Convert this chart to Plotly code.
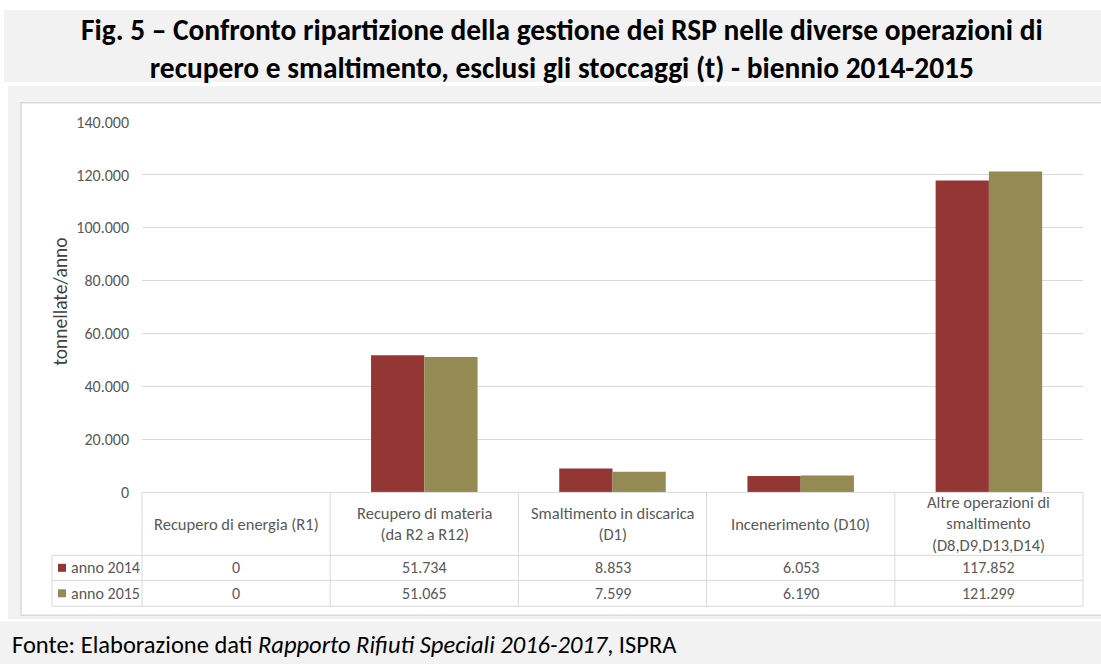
import plotly.graph_objects as go

# Data
categories = [
    "Recupero di energia (R1)",
    "Recupero di materia<br>(da R2 a R12)",
    "Smaltimento in discarica<br>(D1)",
    "Incenerimento (D10)",
    "Altre operazioni di<br>smaltimento<br>(D8,D9,D13,D14)",
]
series_names = ["anno 2014", "anno 2015"]
values_2014 = [0, 51734, 8853, 6053, 117852]
values_2015 = [0, 51065, 7599, 6190, 121299]
y_ticks = [0, 20000, 40000, 60000, 80000, 100000, 120000, 140000]

colors = ["#943634", "#948A54"]
W, H = 1101, 664
FONT = "Carlito, Calibri, Lato, sans-serif"
GRID = "#d9d9d9"
TXT = "#595959"

# vertical layout correction (page renders slightly compressed in height)
Y_SCALE, Y_OFF = 0.9724, 9.1


def px(x):
    return x / W


def py(y):
    return 1 - ((y - Y_OFF) / Y_SCALE) / H


def fmt(v):
    return f"{v:,}".replace(",", ".")


x_left, x_right = 142, 1083
y_zero, y_top = 492.5, 122.3

fig = go.Figure()
for name, vals, col in zip(series_names, [values_2014, values_2015], colors):
    fig.add_trace(go.Bar(x=categories, y=vals, name=name, marker_color=col,
                         marker_line_width=0, showlegend=False))

shapes = []
# background bands
shapes.append(dict(type="rect", xref="paper", yref="paper", x0=px(4), x1=px(W + 5),
                   y0=py(82), y1=py(10), fillcolor="#f2f2f2", line_width=0, layer="below"))
shapes.append(dict(type="rect", xref="paper", yref="paper", x0=px(8), x1=px(W + 5),
                   y0=py(620), y1=py(86), fillcolor="#f2f2f2", line_width=0, layer="below"))
shapes.append(dict(type="rect", xref="paper", yref="paper", x0=px(21), x1=px(W + 5),
                   y0=py(616), y1=py(103), fillcolor="white",
                   line=dict(color=GRID, width=1.5), layer="below"))
shapes.append(dict(type="rect", xref="paper", yref="paper", x0=px(0), x1=px(W + 5),
                   y0=py(H + 30), y1=py(622), fillcolor="#f2f2f2", line_width=0, layer="below"))

# data table grid
col_w = (x_right - x_left) / len(categories)
row_top, row1, row2, row_bot = 493, 556, 581, 607
for i in range(len(categories) + 1):
    xx = x_left + i * col_w
    shapes.append(dict(type="line", xref="paper", yref="paper", x0=px(xx), x1=px(xx),
                       y0=py(row_top), y1=py(row_bot), line=dict(color=GRID, width=1)))
shapes.append(dict(type="line", xref="paper", yref="paper", x0=px(52), x1=px(52),
                   y0=py(row1), y1=py(row_bot), line=dict(color=GRID, width=1)))
for yy in (row1, row2, row_bot):
    shapes.append(dict(type="line", xref="paper", yref="paper", x0=px(52), x1=px(x_right),
                       y0=py(yy), y1=py(yy), line=dict(color=GRID, width=1)))
shapes.append(dict(type="line", xref="paper", yref="paper", x0=px(x_left), x1=px(x_right),
                   y0=py(row_top), y1=py(row_top), line=dict(color=GRID, width=1)))

annotations = []
# header row with category names
for c in categories:
    annotations.append(dict(x=c, xref="x", y=py((row_top + row1) / 2), yref="paper",
                            text=c, showarrow=False, xanchor="center", yanchor="middle",
                            font=dict(family=FONT, size=16.5, color=TXT)))
# value rows with legend keys
for r, (name, vals, col) in enumerate(zip(series_names, [values_2014, values_2015], colors)):
    yc = (row1 + row2) / 2 if r == 0 else (row2 + row_bot) / 2
    shapes.append(dict(type="rect", xref="paper", yref="paper", x0=px(58), x1=px(66),
                       y0=py(yc + 4), y1=py(yc - 4), fillcolor=col, line_width=0))
    annotations.append(dict(x=px(69), xref="paper", y=py(yc), yref="paper", text=name,
                            showarrow=False, xanchor="left", yanchor="middle",
                            font=dict(family=FONT, size=16, color=TXT)))
    for c, v in zip(categories, vals):
        annotations.append(dict(x=c, xref="x", y=py(yc), yref="paper", text=fmt(v),
                                showarrow=False, xanchor="center", yanchor="middle",
                                font=dict(family=FONT, size=16, color=TXT)))

# y axis title
annotations.append(dict(x=px(60), xref="paper", y=py(302), yref="paper",
                        text="tonnellate/anno", textangle=-90, showarrow=False,
                        xanchor="center", yanchor="middle",
                        font=dict(family=FONT, size=19.5, color="#404040")))

# figure title
annotations.append(dict(x=px(562), xref="paper", y=py(49), yref="paper",
                        text="<b>Fig. 5 – Confronto ripartizione della gestione dei RSP nelle diverse operazioni di<br>"
                             "recupero e smaltimento, esclusi gli stoccaggi (t) - biennio 2014-2015</b>",
                        showarrow=False, xanchor="center", yanchor="middle",
                        font=dict(family=FONT, size=29.4, color="black")))

# source note
annotations.append(dict(x=px(10), xref="paper", y=py(646), yref="paper",
                        text="Fonte: Elaborazione dati <i>Rapporto Rifiuti Speciali 2016-2017</i>, ISPRA",
                        showarrow=False, xanchor="left", yanchor="middle",
                        font=dict(family=FONT, size=24.5, color="black")))

fig.update_layout(
    width=W, height=H,
    margin=dict(l=0, r=0, t=0, b=0),
    paper_bgcolor="white",
    plot_bgcolor="rgba(0,0,0,0)",
    separators=",.",
    barmode="group",
    bargap=0.434,
    bargroupgap=0,
    shapes=shapes,
    annotations=annotations,
    xaxis=dict(domain=[px(x_left), px(x_right)], showticklabels=False, showgrid=False,
               zeroline=False, showline=False, fixedrange=True),
    yaxis=dict(domain=[py(y_zero), py(y_top)], range=[0, 140000], tickvals=y_ticks,
               tickformat=",d", showgrid=True, gridcolor=GRID, gridwidth=1,
               zeroline=False, showline=False, ticks="", ticklabelstandoff=12,
               tickfont=dict(family=FONT, size=16, color=TXT)),
)

fig.write_html("out.html")
